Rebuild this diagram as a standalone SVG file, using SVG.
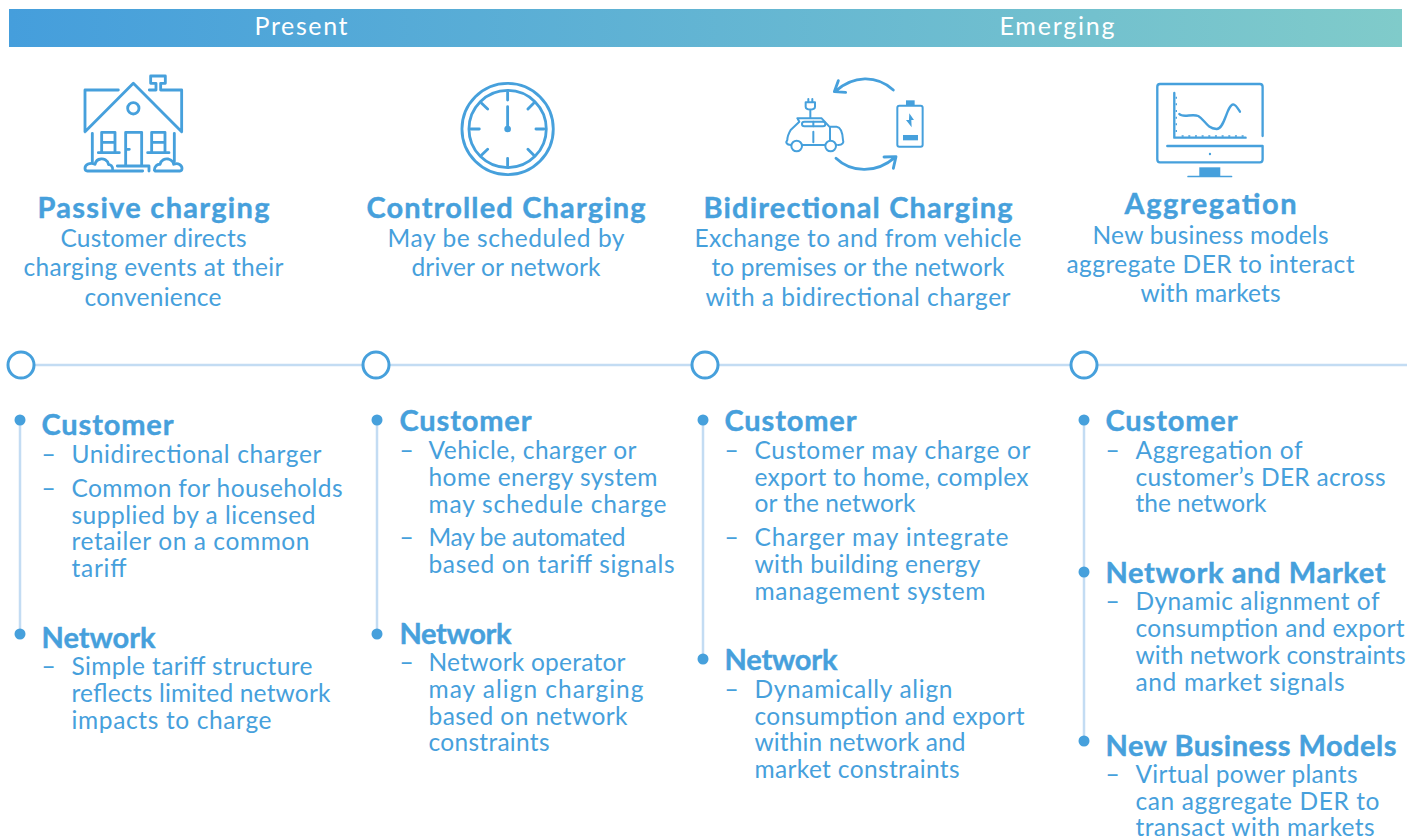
<svg xmlns="http://www.w3.org/2000/svg" width="1419" height="840" viewBox="0 0 1419 840">
<style>
text{font-family:"Lato","Liberation Sans",sans-serif;fill:#46a0dc}
.band{fill:#fff;font-size:25px;text-anchor:middle;font-weight:400}
.h{font-size:29px;font-weight:700;stroke:#46a0dc;stroke-width:.4px}
.b{font-size:24.5px;font-weight:400}
.ic{fill:none;stroke:#46a0dc;stroke-width:8.5;stroke-linecap:round;stroke-linejoin:round}
.f{fill:#46a0dc;stroke:none}
.tl{stroke:#c3dcf3;stroke-width:2.5;fill:none}
.ring{fill:#fff;stroke:#46a0dc;stroke-width:3}
.dot{fill:#46a0dc}
</style>
<defs><linearGradient id="g" x1="0" x2="1" y1="0" y2="0"><stop offset="0" stop-color="#459edc"/><stop offset="1" stop-color="#80cbca"/></linearGradient></defs>
<g id="band"><rect x="9" y="9" width="1393" height="38" fill="url(#g)"/>
<text class="band" x="301" y="35" textLength="93" lengthAdjust="spacing">Present</text>
<text class="band" x="1057" y="35" textLength="115" lengthAdjust="spacing">Emerging</text></g>
<g id="connectors">
<path class="tl" d="M21 365H1407M20 420V634M377 420V634M703 420V659M1084 420V741"/>
<circle class="ring" cx="21" cy="365" r="13"/><circle class="ring" cx="376" cy="365" r="13"/><circle class="ring" cx="705" cy="365" r="13"/><circle class="ring" cx="1084" cy="365" r="13"/>
<circle class="dot" cx="20" cy="420" r="5.5"/><circle class="dot" cx="20" cy="634" r="5.5"/>
<circle class="dot" cx="377" cy="420" r="5.5"/><circle class="dot" cx="377" cy="634" r="5.5"/>
<circle class="dot" cx="703" cy="420" r="5.5"/><circle class="dot" cx="703" cy="659" r="5.5"/>
<circle class="dot" cx="1084" cy="420" r="5.5"/><circle class="dot" cx="1084" cy="572" r="5.5"/><circle class="dot" cx="1084" cy="741" r="5.5"/>
</g>
<g id="icon-house" transform="translate(60 60) scale(.3333)"><g class="ic">
<path d="M75 215L220 70L365 215V90H302V70H316V48H272V70H288V90H268M75 215V90H175"/><circle cx="220" cy="145" r="17"/>
<path d="M97 220V305M343 220V305M197 315V217H245V315M197 268H208M172 318H267V333"/>
<path d="M125 275V217H165V275M125 247H165M115 278H178M275 275V217H315V275M275 247H315M263 278H327"/>
<path d="M158 331C160 318 150 313 146 314C143 300 130 295 122 297C112 298 107 305 105 313C90 305 75 315 75 325C75 330 78 333 82 333H248"/>
<path d="M283 331C283 320 292 312 300 313C303 300 315 295 325 297C335 300 340 305 341 313C355 307 366 316 366 325C366 330 364 333 360 333H285"/>
</g></g>
<g id="icon-clock" transform="translate(60 60) scale(.3333)"><g class="ic">
<circle cx="1343" cy="207" r="137"/><circle cx="1343" cy="207" r="116"/>
<path d="M1343 97V120M1343 295V318M1233 207H1258M1428 207H1452M1265 130L1283 147M1421 130L1404 147M1265 285L1283 268M1421 285L1404 268M1343 140V207"/></g>
<circle class="f" cx="1343" cy="207" r="10"/></g>
<g id="icon-car" transform="translate(770 65) scale(.3333)"><g class="ic">
<path d="M370 75C320 30 250 30 195 80M205 47L193 80L227 82M198 280C245 325 320 325 375 277M342 276L378 275L370 310"/>
<rect x="382" y="122" width="76" height="123" rx="6" style="stroke-width:6"/></g>
<rect class="f" x="408" y="106" width="26" height="16"/><rect class="f" x="399" y="210" width="45" height="16"/>
<polygon class="f" points="418,145 432,165 424,165 425,187 408,165 417,165"/>
<g class="ic" style="stroke-width:6"><path d="M107 112V125C107 136 135 136 135 125V112ZM115 112V102M127 112V102M121 135V158M82 160H155L178 185H200C212 187 218 205 219 225C222 232 218 240 205 240M82 160L88 170L62 195C55 207 52 218 52 225C46 232 50 240 62 240M62 240H200M98 240H165M130 200V232M180 186V228"/>
<rect x="96" y="170" width="70" height="14" rx="7"/><path d="M130 170V184"/><circle cx="80" cy="243" r="16" style="fill:#fff"/><circle cx="182" cy="243" r="16" style="fill:#fff"/></g></g>
<g id="icon-monitor" transform="translate(770 65) scale(.3333)"><g class="ic" style="stroke-width:7">
<path d="M1478 213V65Q1478 57 1470 57H1170Q1162 57 1162 65V283Q1162 292 1170 292H1470Q1478 292 1478 283V243H1192"/>
<path d="M1228 147C1240 160 1265 145 1285 153C1305 165 1310 190 1340 192C1365 192 1370 120 1390 118C1397 118 1405 132 1410 140"/>
<path d="M1213 84V218H1427"/></g>
<path d="M1219 95v6M1219 115v6M1219 135v6M1219 155v6M1219 175v6M1219 195v6M1235 213h6M1255 213h6M1275 213h6M1295 213h6M1315 213h6M1335 213h6M1355 213h6M1375 213h6M1395 213h6M1415 213h6" stroke="#46a0dc" stroke-width="4" fill="none"/>
<circle class="f" cx="1320" cy="267" r="3.5"/><rect class="f" x="1288" y="307" width="63" height="27"/><rect class="f" x="1252" y="332" width="135" height="5" rx="2"/></g>

<g id="col1" transform="translate(-.5 .7)">
<text class="h" x="38" y="217" textLength="232">Passive charging</text>
<text class="b" x="61" y="246" textLength="186">Customer directs</text>
<text class="b" x="24" y="275" textLength="260">charging events at their</text>
<text class="b" x="85" y="305" textLength="137">convenience</text>
<text class="h" x="42" y="434" textLength="132">Customer</text>
<text class="b" x="42" y="462">–</text><text class="b" x="72" y="462" textLength="250">Unidirectional charger</text>
<text class="b" x="42" y="496">–</text><text class="b" x="72" y="496" textLength="271">Common for households</text>
<text class="b" x="72" y="523" textLength="244">supplied by a licensed</text>
<text class="b" x="72" y="549" textLength="238">retailer on a common</text>
<text class="b" x="72" y="576" textLength="55">tariff</text>
<text class="h" x="42" y="647" textLength="114">Network</text>
<text class="b" x="42" y="674">–</text><text class="b" x="72" y="674" textLength="241">Simple tariff structure</text>
<text class="b" x="72" y="701" textLength="259">reflects limited network</text>
<text class="b" x="72" y="728" textLength="200">impacts to charge</text>
</g>
<g id="col2" transform="translate(-.5 .7)">
<text class="h" x="367" y="217" textLength="279">Controlled Charging</text>
<text class="b" x="388" y="246" textLength="237">May be scheduled by</text>
<text class="b" x="412" y="275" textLength="189">driver or network</text>
<text class="h" x="400" y="430.5" textLength="132">Customer</text>
<text class="b" x="400" y="458">–</text><text class="b" x="429" y="458" textLength="208">Vehicle, charger or</text>
<text class="b" x="429" y="485" textLength="229">home energy system</text>
<text class="b" x="429" y="512" textLength="238">may schedule charge</text>
<text class="b" x="400" y="545">–</text><text class="b" x="429" y="545" textLength="197">May be automated</text>
<text class="b" x="429" y="572" textLength="246">based on tariff signals</text>
<text class="h" x="400" y="643" textLength="112">Network</text>
<text class="b" x="400" y="670">–</text><text class="b" x="429" y="670" textLength="197">Network operator</text>
<text class="b" x="429" y="697" textLength="215">may align charging</text>
<text class="b" x="429" y="724" textLength="199">based on network</text>
<text class="b" x="429" y="750" textLength="121">constraints</text>
</g>
<g id="col3" transform="translate(-.5 .7)">
<text class="h" x="704" y="217" textLength="309">Bidirectional Charging</text>
<text class="b" x="695" y="246" textLength="327">Exchange to and from vehicle</text>
<text class="b" x="712" y="275" textLength="293">to premises or the network</text>
<text class="b" x="706" y="305" textLength="305">with a bidirectional charger</text>
<text class="h" x="725" y="430.5" textLength="132">Customer</text>
<text class="b" x="725" y="458">–</text><text class="b" x="755" y="458" textLength="276">Customer may charge or</text>
<text class="b" x="755" y="485" textLength="274">export to home, complex</text>
<text class="b" x="755" y="511" textLength="161">or the network</text>
<text class="b" x="725" y="545">–</text><text class="b" x="755" y="545" textLength="254">Charger may integrate</text>
<text class="b" x="755" y="572" textLength="226">with building energy</text>
<text class="b" x="755" y="599" textLength="231">management system</text>
<text class="h" x="725" y="669" textLength="113">Network</text>
<text class="b" x="725" y="697">–</text><text class="b" x="755" y="697" textLength="198">Dynamically align</text>
<text class="b" x="755" y="724" textLength="270">consumption and export</text>
<text class="b" x="755" y="750" textLength="211">within network and</text>
<text class="b" x="755" y="777" textLength="205">market constraints</text>
</g>
<g id="col4" transform="translate(-.5 .7)">
<text class="h" x="1125" y="213" textLength="172">Aggregation</text>
<text class="b" x="1093" y="243" textLength="236">New business models</text>
<text class="b" x="1067" y="272" textLength="288">aggregate DER to interact</text>
<text class="b" x="1141" y="301" textLength="140">with markets</text>
<text class="h" x="1106" y="430.5" textLength="132">Customer</text>
<text class="b" x="1106" y="458">–</text><text class="b" x="1136" y="458" textLength="167">Aggregation of</text>
<text class="b" x="1136" y="485" textLength="250">customer’s DER across</text>
<text class="b" x="1136" y="511" textLength="131">the network</text>
<text class="h" x="1106" y="582.5" textLength="280">Network and Market</text>
<text class="b" x="1106" y="609">–</text><text class="b" x="1136" y="609" textLength="244">Dynamic alignment of</text>
<text class="b" x="1136" y="636" textLength="269">consumption and export</text>
<text class="b" x="1136" y="663" textLength="270">with network constraints</text>
<text class="b" x="1136" y="690" textLength="209">and market signals</text>
<text class="h" x="1106" y="755.5" textLength="291">New Business Models</text>
<text class="b" x="1106" y="782">–</text><text class="b" x="1136" y="782" textLength="222">Virtual power plants</text>
<text class="b" x="1136" y="809" textLength="244">can aggregate DER to</text>
<text class="b" x="1136" y="835" textLength="239">transact with markets</text>
</g>
</svg>
